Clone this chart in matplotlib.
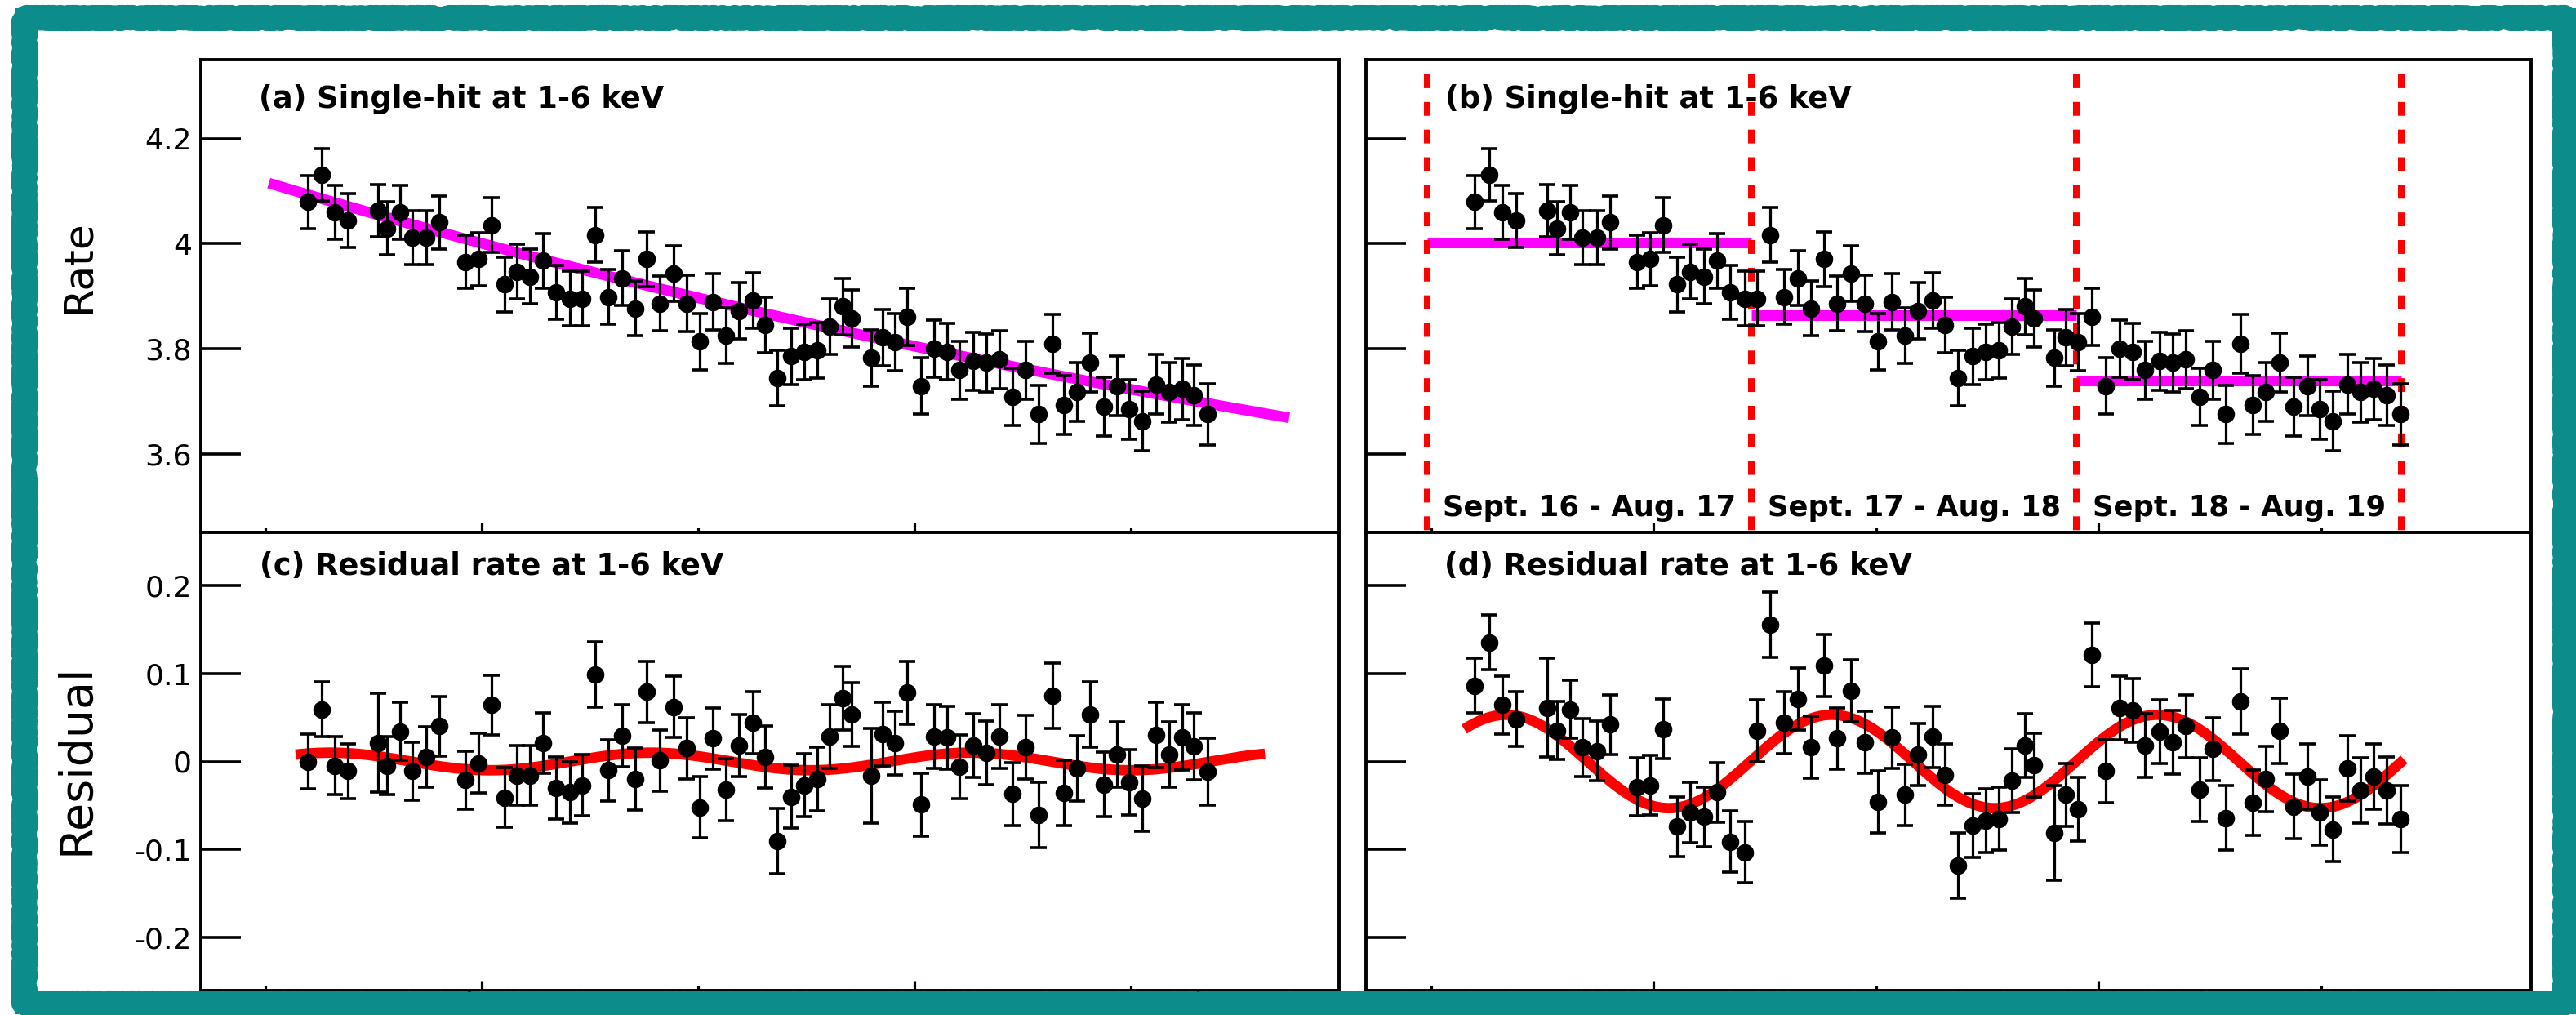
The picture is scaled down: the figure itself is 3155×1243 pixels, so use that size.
import numpy as np
import matplotlib
matplotlib.use("Agg")
import matplotlib.pyplot as plt
from matplotlib.patches import Rectangle

# ---------------------------------------------------------------- data
# time of each bin (days)
days = [299, 315, 330, 345, 380, 391, 406, 420, 436, 451,
        481, 496, 511, 526, 541, 556, 571, 586, 602, 616,
        631, 646, 662, 677, 691, 706, 722, 737, 752, 767,
        782, 797, 813, 827, 842, 858, 873, 888, 902, 917,
        927, 950, 963, 977, 992, 1008, 1023, 1038, 1052, 1068,
        1083, 1098, 1113, 1128, 1143, 1159, 1173, 1188, 1203, 1219,
        1234, 1248, 1263, 1279, 1294, 1309, 1323, 1339]

# single-hit rate at 1-6 keV
rate = [4.079, 4.131, 4.059, 4.044, 4.062, 4.029, 4.059, 4.011, 4.011, 4.040,
        3.965, 3.970, 4.035, 3.922, 3.946, 3.937, 3.967, 3.907, 3.895, 3.895,
        4.016, 3.898, 3.934, 3.876, 3.970, 3.886, 3.943, 3.886, 3.813, 3.889,
        3.824, 3.872, 3.892, 3.845, 3.744, 3.785, 3.794, 3.797, 3.842, 3.880,
        3.857, 3.782, 3.821, 3.812, 3.860, 3.729, 3.800, 3.794, 3.759, 3.776,
        3.773, 3.779, 3.708, 3.759, 3.675, 3.809, 3.693, 3.717, 3.773, 3.690,
        3.729, 3.684, 3.662, 3.732, 3.717, 3.723, 3.711, 3.675]
rate_err = [0.050, 0.050, 0.051, 0.051, 0.050, 0.051, 0.051, 0.051, 0.051, 0.051,
            0.051, 0.051, 0.052, 0.052, 0.052, 0.052, 0.052, 0.052, 0.052, 0.052,
            0.052, 0.052, 0.052, 0.052, 0.052, 0.052, 0.053, 0.053, 0.053, 0.053,
            0.053, 0.053, 0.053, 0.053, 0.053, 0.053, 0.053, 0.053, 0.053, 0.054,
            0.054, 0.054, 0.054, 0.054, 0.054, 0.054, 0.054, 0.054, 0.055, 0.055,
            0.055, 0.055, 0.055, 0.055, 0.055, 0.056, 0.056, 0.056, 0.056, 0.056,
            0.056, 0.057, 0.057, 0.057, 0.057, 0.058, 0.058, 0.058]

# residual after the exponential fit (c)
resid_exp = [0.000, 0.059, -0.005, -0.011, 0.021, -0.005, 0.034, -0.011, 0.005, 0.040,
             -0.021, -0.002, 0.064, -0.041, -0.016, -0.016, 0.021, -0.030, -0.035, -0.027,
             0.099, -0.010, 0.029, -0.020, 0.079, 0.001, 0.062, 0.015, -0.052, 0.026,
             -0.032, 0.018, 0.044, 0.005, -0.090, -0.040, -0.027, -0.020, 0.028, 0.072,
             0.053, -0.016, 0.031, 0.021, 0.078, -0.049, 0.028, 0.027, -0.006, 0.018,
             0.010, 0.028, -0.037, 0.016, -0.061, 0.075, -0.036, -0.008, 0.053, -0.026,
             0.008, -0.024, -0.042, 0.030, 0.008, 0.027, 0.017, -0.012]

# residual after the yearly step fit (d)
resid_step = [0.086, 0.135, 0.064, 0.048, 0.061, 0.035, 0.059, 0.016, 0.012, 0.042,
              -0.029, -0.027, 0.037, -0.074, -0.058, -0.063, -0.035, -0.091, -0.103, 0.035,
              0.155, 0.044, 0.071, 0.016, 0.109, 0.026, 0.080, 0.022, -0.046, 0.027,
              -0.038, 0.008, 0.028, -0.015, -0.118, -0.073, -0.067, -0.065, -0.022, 0.018,
              -0.004, -0.081, -0.038, -0.054, 0.121, -0.011, 0.061, 0.058, 0.018, 0.034,
              0.022, 0.040, -0.032, 0.014, -0.064, 0.068, -0.047, -0.020, 0.035, -0.051,
              -0.017, -0.058, -0.077, -0.008, -0.033, -0.017, -0.033, -0.065]
resid_err = [0.031, 0.031, 0.033, 0.031, 0.056, 0.033, 0.033, 0.033, 0.034, 0.034,
             0.033, 0.034, 0.034, 0.034, 0.034, 0.034, 0.034, 0.035, 0.035, 0.035,
             0.037, 0.035, 0.035, 0.035, 0.035, 0.035, 0.035, 0.035, 0.035, 0.035,
             0.035, 0.035, 0.035, 0.035, 0.037, 0.036, 0.036, 0.036, 0.036, 0.036,
             0.036, 0.054, 0.036, 0.036, 0.036, 0.036, 0.036, 0.036, 0.036, 0.036,
             0.036, 0.036, 0.036, 0.036, 0.037, 0.037, 0.037, 0.037, 0.037, 0.037,
             0.037, 0.037, 0.037, 0.037, 0.037, 0.037, 0.038, 0.038]

# exponential background fit: C + A * exp(-(t - t_ref) / tau)
exp_fit = {"C": 3.067, "A": 1.048, "t_ref": 254.0, "tau": 2122.0, "t_range": (254, 1433)}

# yearly periods and the flat rate fitted in each
period_edges = [245, 610, 975, 1340]
period_levels = [4.002, 3.864, 3.739]
period_names = ["Sept. 16 - Aug. 17", "Sept. 17 - Aug. 18", "Sept. 18 - Aug. 19"]

# annual modulation fits: A * cos(2 pi (t - t0) / T)
mod_fit_c = {"A": 0.010, "T": 370.0, "t0": 325.0, "t_range": (285, 1405)}
mod_fit_d = {"A": 0.053, "T": 366.0, "t0": 334.0, "t_range": (287, 1343)}

rate_ticks = [3.6, 3.8, 4.0, 4.2]
rate_ticklabels = ["3.6", "3.8", "4", "4.2"]
resid_ticks = [-0.2, -0.1, 0.0, 0.1, 0.2]
resid_ticklabels = ["-0.2", "-0.1", "0", "0.1", "0.2"]

# ---------------------------------------------------------------- figure
W, H, DPI = 3155, 1243, 100
fig = plt.figure(figsize=(W / DPI, H / DPI), dpi=DPI, facecolor="white")
plt.rcParams["font.family"] = ["DejaVu Sans"]

TEAL = "#0d8c8c"
MAGENTA = "#ff00ff"
RED = "#ff0000"


def px_box(x0, y0, x1, y1):
    return [x0 / W, 1 - y1 / H, (x1 - x0) / W, (y1 - y0) / H]


ax_a = fig.add_axes(px_box(246, 73, 1640, 652))
ax_c = fig.add_axes(px_box(246, 652, 1640, 1213))
ax_b = fig.add_axes(px_box(1673, 73, 3100, 652))
ax_d = fig.add_axes(px_box(1673, 652, 3100, 1213))


def style(ax, xlim, ylim, ticks, labels, show_labels):
    ax.set_xlim(*xlim)
    ax.set_ylim(*ylim)
    ax.set_xticks([500, 1000])
    ax.set_xticks([250, 750, 1250], minor=True)
    ax.set_yticks(ticks)
    ax.set_yticklabels(labels if show_labels else [])
    ax.tick_params(axis="x", which="major", direction="in", length=9, width=2.3,
                   top=False, labelbottom=False)
    ax.tick_params(axis="x", which="minor", direction="in", length=4.5, width=2.3,
                   top=False, labelbottom=False)
    ax.tick_params(axis="y", which="major", direction="in", length=35, width=2.6,
                   right=False, labelsize=26, pad=8)
    ax.tick_params(axis="y", which="minor", left=False, right=False)
    for s in ax.spines.values():
        s.set_linewidth(2.8)
        s.set_color("black")


style(ax_a, (175.5, 1490.6), (3.45, 4.35), rate_ticks, rate_ticklabels, True)
style(ax_b, (176.6, 1485.8), (3.45, 4.35), rate_ticks, rate_ticklabels, False)
style(ax_c, (175.5, 1490.6), (-0.26, 0.26), resid_ticks, resid_ticklabels, True)
style(ax_d, (176.6, 1485.8), (-0.26, 0.26), resid_ticks, resid_ticklabels, False)

pt_style = dict(fmt="o", color="black", markersize=14.5, elinewidth=2.3,
                capsize=7, capthick=2.6, zorder=5)

t = np.array(days, dtype=float)

# (a) rate with exponential fit
tt = np.linspace(*exp_fit["t_range"], 400)
ax_a.plot(tt, exp_fit["C"] + exp_fit["A"] * np.exp(-(tt - exp_fit["t_ref"]) / exp_fit["tau"]),
          color=MAGENTA, lw=9.4, solid_capstyle="butt", zorder=3)
ax_a.errorbar(t, rate, yerr=rate_err, **pt_style)

# (b) rate with one flat level per year
for x0, x1, lv in zip(period_edges[:-1], period_edges[1:], period_levels):
    ax_b.plot([x0, x1], [lv, lv], color=MAGENTA, lw=9.4, solid_capstyle="butt", zorder=3)
ax_b.errorbar(t, rate, yerr=rate_err, **pt_style)
for xe in period_edges:
    ax_b.plot([xe, xe], [4.3225, 3.45], color=RED, lw=5.8,
              linestyle=(0, (2.1, 2.1)), dash_capstyle="butt", zorder=4, clip_on=False)
for x0, x1, name in zip(period_edges[:-1], period_edges[1:], period_names):
    ax_b.text((x0 + x1) / 2, 3.481, name, ha="center", va="baseline",
              fontsize=25.5, fontweight="bold", zorder=6)

# (c) residual of the exponential fit with modulation
tt = np.linspace(*mod_fit_c["t_range"], 400)
ax_c.plot(tt, mod_fit_c["A"] * np.cos(2 * np.pi * (tt - mod_fit_c["t0"]) / mod_fit_c["T"]),
          color=RED, lw=9.2, solid_capstyle="butt", zorder=3)
ax_c.errorbar(t, resid_exp, yerr=resid_err, **pt_style)

# (d) residual of the step fit with modulation
tt = np.linspace(*mod_fit_d["t_range"], 400)
ax_d.plot(tt, mod_fit_d["A"] * np.cos(2 * np.pi * (tt - mod_fit_d["t0"]) / mod_fit_d["T"]),
          color=RED, lw=9.2, solid_capstyle="butt", zorder=3)
ax_d.errorbar(t, resid_step, yerr=resid_err, **pt_style)

# panel captions
title_kw = dict(fontsize=26.5, fontweight="bold", va="baseline", ha="left", zorder=7)
ax_a.text(0.051, 0.898, "(a) Single-hit at 1-6 keV", transform=ax_a.transAxes, **title_kw)
ax_b.text(0.068, 0.898, "(b) Single-hit at 1-6 keV", transform=ax_b.transAxes, **title_kw)
ax_c.text(0.052, 0.907, "(c) Residual rate at 1-6 keV", transform=ax_c.transAxes, **title_kw)
ax_d.text(0.067, 0.907, "(d) Residual rate at 1-6 keV", transform=ax_d.transAxes, **title_kw)

# axis titles
fig.text(96 / W, 1 - 327 / H, "Rate", rotation=90, ha="center", va="center", fontsize=36)
fig.text(93 / W, 1 - 930 / H, "Residual", rotation=90, ha="center", va="center", fontsize=40)

# painted frame around the figure: a solid band plus a ragged outline
x0, y0, x1, y1 = 30, 22, 3142, 1229
frame = Rectangle((x0 / W, 1 - y1 / H), (x1 - x0) / W, (y1 - y0) / H,
                  transform=fig.transFigure, fill=False, edgecolor=TEAL,
                  linewidth=18, joinstyle="miter", zorder=10)
fig.patches.append(frame)
ragged = Rectangle((x0 / W, 1 - y1 / H), (x1 - x0) / W, (y1 - y0) / H,
                   transform=fig.transFigure, fill=False, edgecolor=TEAL,
                   linewidth=19, joinstyle="round", capstyle="round", zorder=10)
ragged.set_sketch_params(scale=3, length=5, randomness=3)
fig.patches.append(ragged)

fig.savefig("out.png", dpi=DPI, facecolor="white")
